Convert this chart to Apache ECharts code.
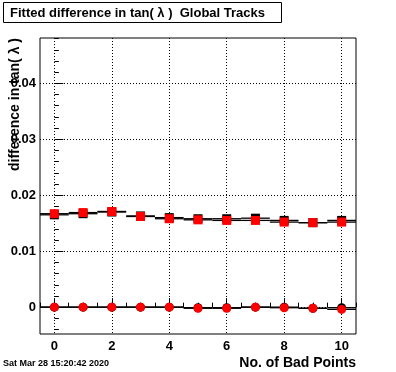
<!DOCTYPE html>
<html>
<head>
<meta charset="utf-8">
<script src="https://cdn.jsdelivr.net/npm/echarts@6/dist/echarts.min.js"></script>
<style>html,body{margin:0;padding:0;background:#fff;}#c{width:396px;height:372px;}</style>
</head>
<body>
<div id="c"></div>
<script>
// Data
var badPoints = [0, 1, 2, 3, 4, 5, 6, 7, 8, 9, 10];
var upperBlack = [0.0165, 0.0167, 0.0170, 0.0163, 0.0160, 0.0158, 0.0158, 0.0159, 0.0155, 0.0151, 0.0155];
var upperRed   = [0.0167, 0.0169, 0.0171, 0.0162, 0.0158, 0.0156, 0.0155, 0.0155, 0.0152, 0.0151, 0.0152];
var lowerBlack = [0, 0, 0, 0, 0, -0.0001, -0.0001, 0, 0, -0.0002, -0.0001];
var lowerRed   = [0, 0, 0, 0, 0, -0.0002, -0.0002, 0, -0.0001, -0.0002, -0.0004];
var xMajorTicks = [0, 2, 4, 6, 8, 10];
var yMajorTicks = [0, 0.01, 0.02, 0.03, 0.04];
var yMinorTicks = [-0.004, -0.002, 0.002, 0.004, 0.006, 0.008, 0.012, 0.014, 0.016, 0.018,
                   0.022, 0.024, 0.026, 0.028, 0.032, 0.034, 0.036, 0.038, 0.042, 0.044, 0.046, 0.048];
var titleText = 'Fitted difference in tan( \u03bb )  Global Tracks';
var yTitle = 'difference in tan( \u03bb )';
var xTitle = 'No. of Bad Points';
var dateText = 'Sat Mar 28 15:20:42 2020';

function pairs(vals) { return badPoints.map(function (x, i) { return [x, vals[i]]; }); }

var FONT = 'Liberation Sans, Arial, Helvetica, sans-serif';
var X_MIN = -0.5, X_MAX = 10.5, Y_MIN = -0.0048, Y_MAX = 0.0481;

function segRender(params, api) {
  var x = api.value(0), y = api.value(1);
  var p1 = api.coord([x - 0.5, y]);
  var p2 = api.coord([x + 0.5, y]);
  return { type: 'line', shape: { x1: p1[0], y1: p1[1], x2: p2[0], y2: p2[1] },
           style: { stroke: '#000', lineWidth: 1.3 } };
}

function segSeries(vals) {
  return { type: 'custom', xAxisIndex: 0, yAxisIndex: 0, renderItem: segRender,
           data: pairs(vals), clip: true, silent: true, z: 2 };
}
function markSeries(vals, sym, color, size) {
  return { type: 'scatter', xAxisIndex: 0, yAxisIndex: 0, symbol: sym, symbolSize: size,
           itemStyle: { color: color, opacity: 1 }, data: pairs(vals), silent: true, z: 3 };
}

var chart = echarts.init(document.getElementById('c'), null, { renderer: 'canvas' });
chart.setOption({
  animation: false,
  backgroundColor: '#fff',
  grid: { left: 40, top: 38, width: 316, height: 296, show: true, borderColor: '#000', borderWidth: 1, backgroundColor: 'transparent', containLabel: false },
  xAxis: [
    { type: 'value', min: X_MIN, max: X_MAX, interval: 0.5, position: 'bottom',
      axisLine: { show: false }, axisLabel: { show: false }, splitLine: { show: false },
      axisTick: { show: true, inside: true, length: 4.5, lineStyle: { color: '#000', width: 1 } } },
    { type: 'value', min: X_MIN, max: X_MAX, position: 'bottom',
      axisLine: { show: false },
      axisTick: { show: true, inside: true, length: 9, customValues: xMajorTicks, lineStyle: { color: '#000', width: 1 } },
      axisLabel: { show: true, customValues: xMajorTicks, margin: 6, color: '#000', fontFamily: FONT, fontWeight: 'bold', fontSize: 13 },
      splitLine: { show: true, lineStyle: { color: '#000', width: 1, type: [1, 2] } } }
  ],
  yAxis: [
    { type: 'value', min: Y_MIN, max: Y_MAX, position: 'left',
      axisLine: { show: false }, axisLabel: { show: false }, splitLine: { show: false },
      axisTick: { show: true, inside: true, length: 4.5, customValues: yMinorTicks, lineStyle: { color: '#000', width: 1 } } },
    { type: 'value', min: Y_MIN, max: Y_MAX, position: 'left',
      axisLine: { show: false },
      axisTick: { show: true, inside: true, length: 9, customValues: yMajorTicks, lineStyle: { color: '#000', width: 1 } },
      axisLabel: { show: true, customValues: yMajorTicks, margin: 4, color: '#000', fontFamily: FONT, fontWeight: 'bold', fontSize: 13,
                   formatter: function (v) { return String(+v.toFixed(4)); } },
      splitLine: { show: true, lineStyle: { color: '#000', width: 1, type: [1, 2] } } }
  ],
  graphic: [
    { type: 'rect', shape: { x: 3.5, y: 2.5, width: 278, height: 20 }, style: { fill: '#fff', stroke: '#000', lineWidth: 1 }, z: 10 },
    { type: 'text', x: 10, y: 13, z: 11, style: { text: titleText, fill: '#000', font: 'bold 13px ' + FONT, verticalAlign: 'middle', align: 'left' } },
    { type: 'text', x: 15, y: 38, rotation: Math.PI / 2, z: 11, style: { text: yTitle, fill: '#000', font: 'bold 14px ' + FONT, verticalAlign: 'middle', align: 'right' } },
    { type: 'text', x: 356, y: 363, z: 11, style: { text: xTitle, fill: '#000', font: 'bold 14px ' + FONT, verticalAlign: 'middle', align: 'right' } },
    { type: 'text', x: 3, y: 364, z: 11, style: { text: dateText, fill: '#000', font: 'bold 9px ' + FONT, verticalAlign: 'middle', align: 'left' } }
  ],
  series: [
    segSeries(upperBlack), segSeries(upperRed), segSeries(lowerBlack), segSeries(lowerRed),
    markSeries(upperBlack, 'rect', '#000', 9), markSeries(lowerBlack, 'circle', '#000', 9),
    markSeries(upperRed, 'rect', '#ff0000', 9), markSeries(lowerRed, 'circle', '#ff0000', 9)
  ]
});
</script>
</body>
</html>
